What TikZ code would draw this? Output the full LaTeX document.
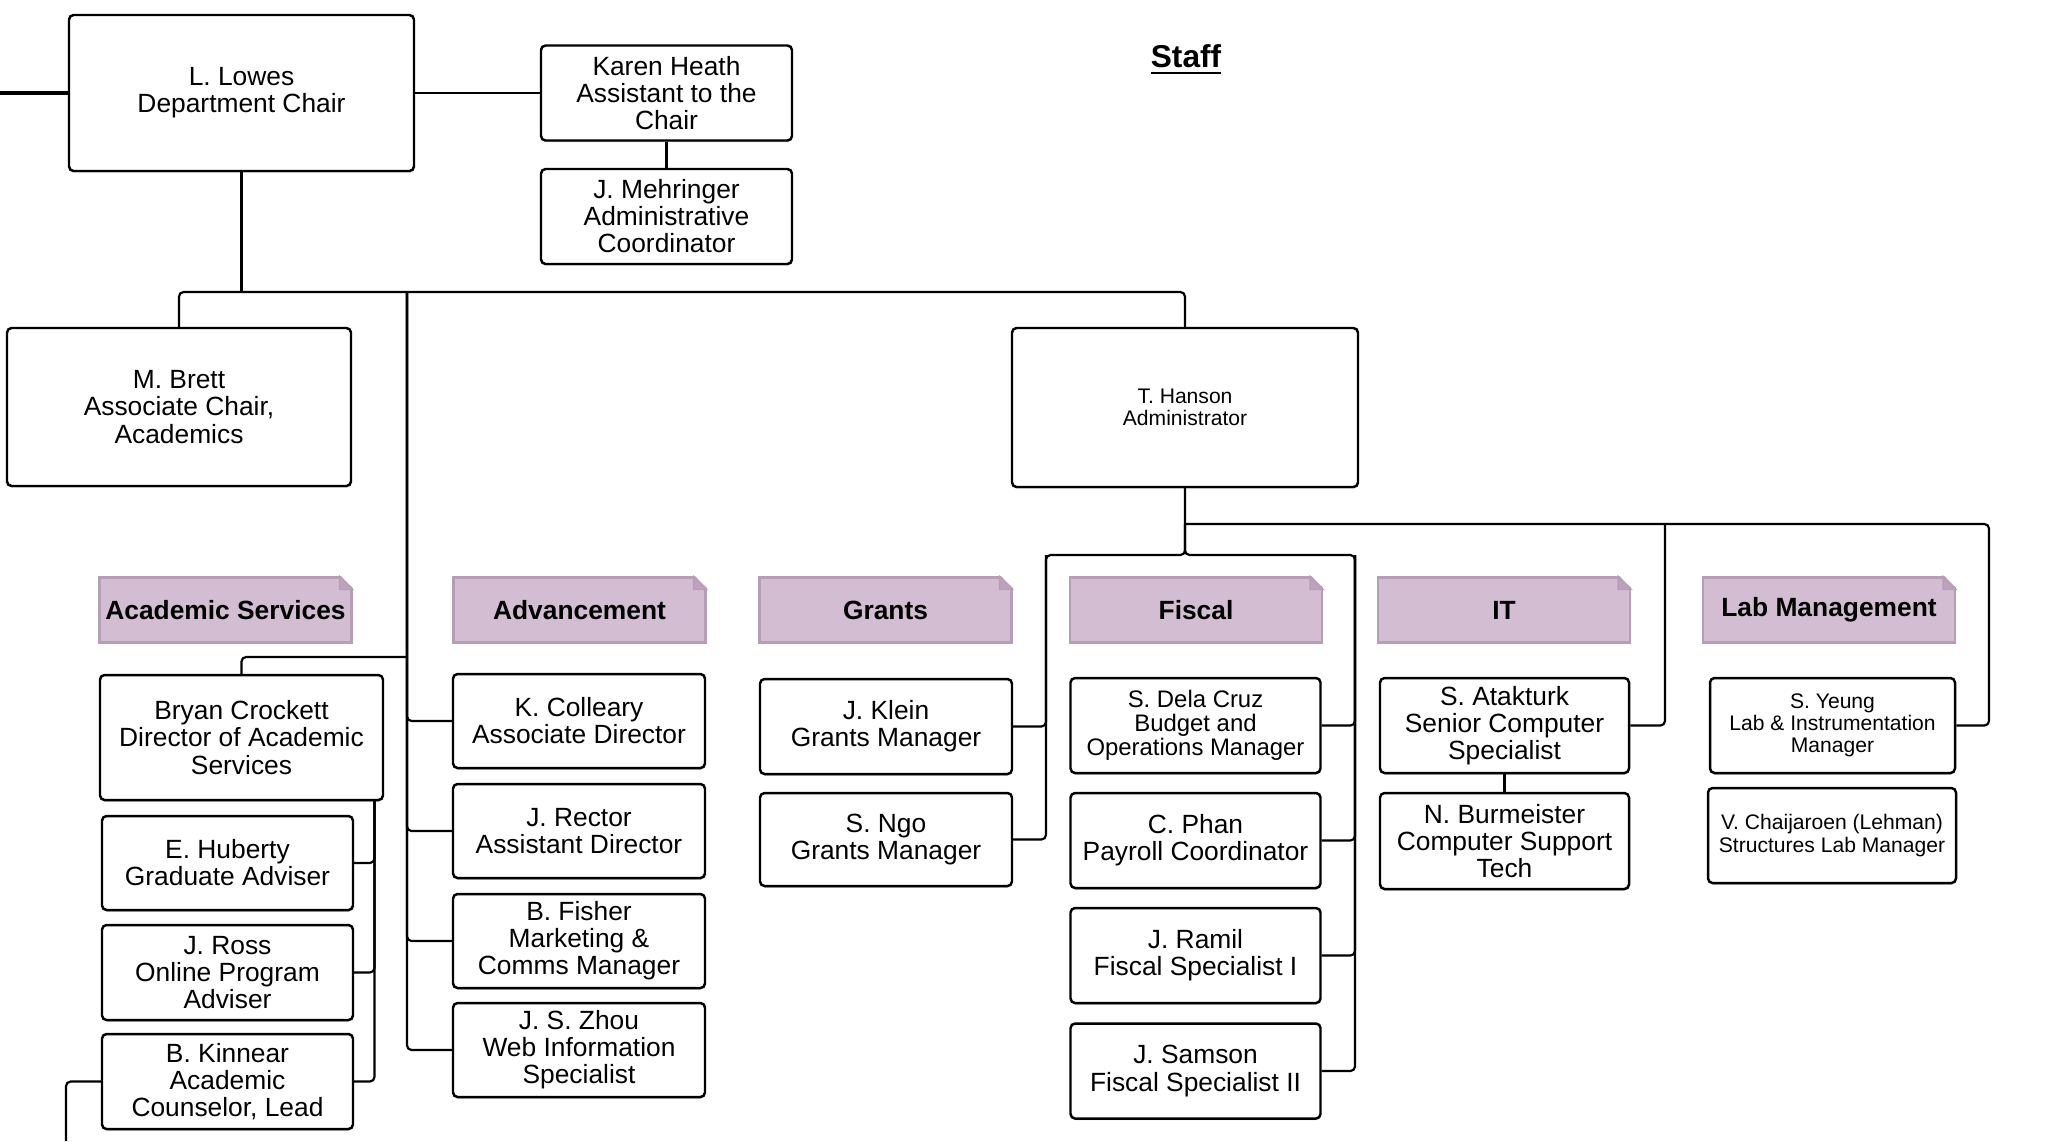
\documentclass[tikz,border=0pt]{standalone}
\usepackage{fontspec}
\setmainfont{Liberation Sans}
\usepackage{tikz}
\usetikzlibrary{calc,positioning,shadows}
\definecolor{gruppe}{HTML}{D3BDD3}
\definecolor{gruppenrand}{HTML}{B79EB7}
\definecolor{knick}{HTML}{BDA2BD}
\tikzset{
  person/.style 2 args={draw,line width=0.7pt,rounded corners=1.3pt,fill=white,align=center,inner sep=0pt,
    minimum width=#1*0.1mm,minimum height=#2*0.1mm,font=\fontsize{7.5}{7.7}\selectfont,
    drop shadow={shadow xshift=0.1pt,shadow yshift=-0.45pt,fill=black!45,opacity=0.5}},
  personklein/.style 2 args={person={#1}{#2},font=\fontsize{6}{6.3}\selectfont},
  gruppe/.style={draw=gruppenrand,fill=gruppe,line width=0.6pt,inner sep=0pt,
    minimum width=252*0.1mm,minimum height=65*0.1mm,font=\fontsize{7.5}{8}\selectfont\bfseries},
  conn/.style={line width=0.62pt,rounded corners=1.3pt}
}
\begin{document}
\begin{tikzpicture}[x=0.1mm,y=-0.1mm]
\useasboundingbox (0,0) rectangle (2065,1141);
\pgfmathsetmacro{\knickgr}{13}
% Leitung
\node[person={345}{156}] (lowes) at (241.5,93) {L. Lowes\\Department Chair};
\node[person={251}{95}] (heath) at (666.5,93) {Karen Heath\\Assistant to the\\Chair};
\node[person={251}{95}] (mehr) at (666.5,216.5) {J. Mehringer\\Administrative\\Coordinator};
\node[font=\fontsize{9}{10}\selectfont\bfseries] (staff) at (1186,60) {\underline{Staff}};
\node[person={344}{158}] (brett) at (179,407) {M. Brett\\Associate Chair,\\Academics};
\node[personklein={346}{159}] (hanson) at (1185,407.5) {T. Hanson\\Administrator};
% Gruppen
\foreach \g/\x/\t in {acad/225.5/Academic Services,adv/579.5/Advancement,grants/885.5/Grants,
    fiscal/1196/Fiscal,it/1504/IT,lab/1829/Lab Management}{
  \node[gruppe] (\g) at (\x,610) {\t};
  \fill[white] ($(\g.north east)+(-\knickgr-1,-3)$) -- ($(\g.north east)+(3,-3)$) -- ($(\g.north east)+(3,\knickgr+1)$) -- cycle;
  \filldraw[fill=knick,draw=gruppenrand,line width=0.4pt] ($(\g.north east)+(-\knickgr,0)$) -- ($(\g.north east)+(0,\knickgr)$) -- ($(\g.north east)+(-\knickgr,\knickgr)$) -- cycle;
}
% Academic Services
\node[person={283}{125}] (crockett) at (241.5,737.5) {Bryan Crockett\\Director of Academic\\Services};
\node[person={251}{94}] (huberty) at (227.5,863) {E. Huberty\\Graduate Adviser};
\node[person={251}{95}] (ross) at (227.5,972.5) {J. Ross\\Online Program\\Adviser};
\node[person={251}{95}] (kinnear) at (227.5,1081.5) {B. Kinnear\\Academic\\Counselor, Lead};
% Advancement
\node[person={252}{94}] (colleary) at (579,721) {K. Colleary\\Associate Director};
\node[person={252}{94}] (rector) at (579,831) {J. Rector\\Assistant Director};
\node[person={252}{94}] (fisher) at (579,941) {B. Fisher\\Marketing \&\\Comms Manager};
\node[person={252}{94}] (zhou) at (579,1050) {J. S. Zhou\\Web Information\\Specialist};
% Grants
\node[person={252}{95}] (klein) at (886,726.5) {J. Klein\\Grants Manager};
\node[person={252}{93}] (ngo) at (886,839.5) {S. Ngo\\Grants Manager};
% Fiscal
\node[person={250}{95},font=\fontsize{6.8}{6.9}\selectfont] (delacruz) at (1195.5,725.5) {S. Dela Cruz\\Budget and\\Operations Manager};
\node[person={250}{95}] (phan) at (1195.5,840.5) {C. Phan\\Payroll Coordinator};
\node[person={250}{95}] (ramil) at (1195.5,955.5) {J. Ramil\\Fiscal Specialist I};
\node[person={250}{95}] (samson) at (1195.5,1071) {J. Samson\\Fiscal Specialist II};
% IT
\node[person={249}{95}] (atakturk) at (1504.5,725.5) {S. Atakturk\\Senior Computer\\Specialist};
\node[person={249}{96}] (burmeister) at (1504.5,841) {N. Burmeister\\Computer Support\\Tech};
% Lab Management
\node[personklein={245}{95}] (yeung) at (1832.5,725.5) {S. Yeung\\Lab \& Instrumentation\\Manager};
\node[personklein={248}{95}] (chaijaroen) at (1832,835.5) {V. Chaijaroen (Lehman)\\Structures Lab Manager};
% Verbindungen
\coordinate (links) at (0,93);
\coordinate (bus) at (241.5,292);
\coordinate (advtrunk) at (407,292);
\coordinate (acadjoin) at (407,657);
\coordinate (acadtrunk) at (374.5,800);
\coordinate (unten) at (66,1141);
\coordinate (hbus) at (1185,524);
\coordinate (gtrunk) at (1046,555);
\coordinate (ftrunk) at (1355,555);
\coordinate (itcol) at (1665,524);
\coordinate (labcol) at (1989,524);
\draw[conn,line width=0.9pt] (links) -- (lowes.west);
\draw[conn] (lowes.east) -- (lowes.east -| heath.west);
\draw[conn] (heath.south) -- (mehr.north);
\draw[conn] (lowes.south) -- (bus);
\draw[conn] (brett.north) |- (bus) -| (hanson.north);
\foreach \n in {colleary,rector,fisher,zhou}{
  \draw[conn] (advtrunk) |- (\n.west);
}
\draw[conn] (acadjoin) -| (crockett.north);
\foreach \n in {huberty,ross,kinnear}{
  \draw[conn] (acadtrunk) |- (\n.east);
}
\draw[conn] (kinnear.west) -| (unten);
\draw[conn] (hanson.south) |- (gtrunk) |- (ngo.east);
\draw[conn] (gtrunk) |- (klein.east);
\draw[conn] (hbus) |- (ftrunk) |- (samson.east);
\foreach \n in {delacruz,phan,ramil}{
  \draw[conn] (ftrunk) |- (\n.east);
}
\draw[conn] (hbus) -- (labcol) |- (yeung.east);
\draw[conn] (itcol) |- (atakturk.east);
\draw[conn] (atakturk.south) -- (burmeister.north);
\end{tikzpicture}
\end{document}
